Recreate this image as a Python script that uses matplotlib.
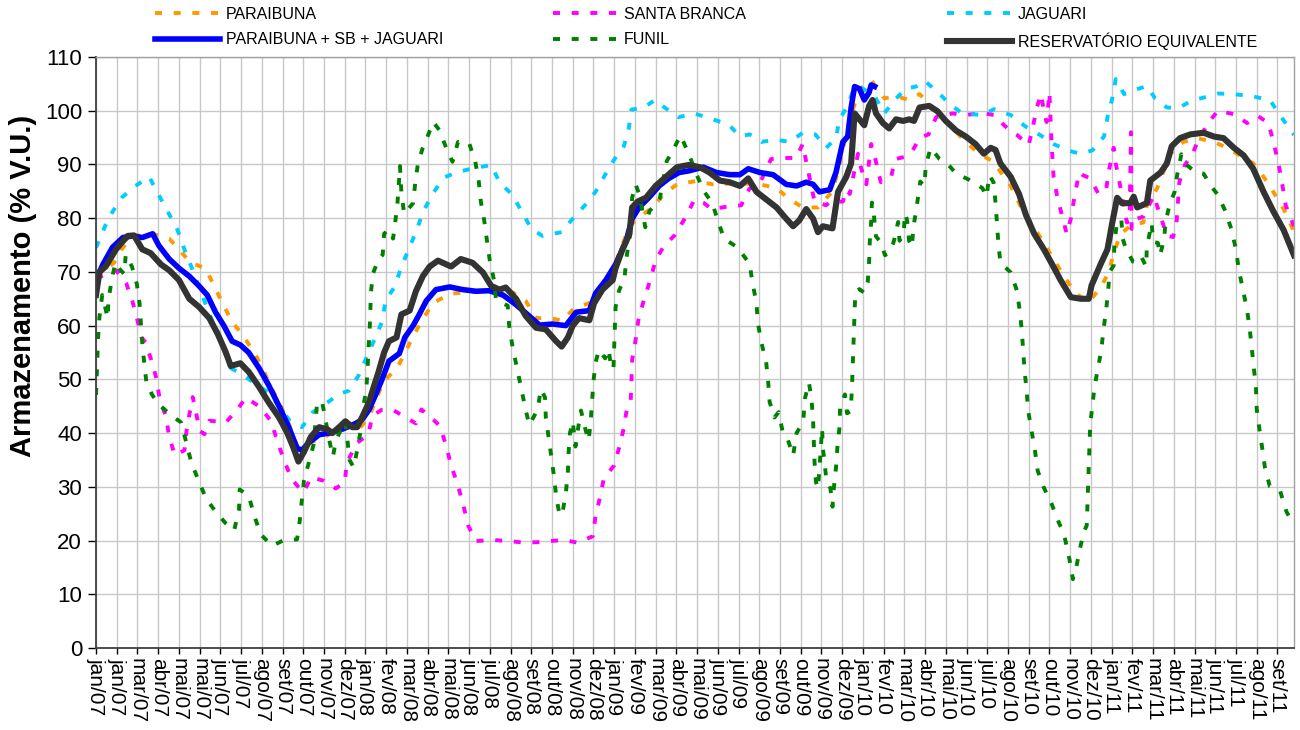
import matplotlib
matplotlib.use("Agg")
import matplotlib.pyplot as plt
from matplotlib.lines import Line2D

plt.rcParams["font.family"] = ["Liberation Sans", "DejaVu Sans"]

# --- x axis: days since 01/jan/2007, one tick every 30 days (Excel date axis)
X_MAX = 1734
TICK_STEP = 30
TICK_LABELS = [
    "jan/07", "jan/07", "mar/07", "abr/07", "mai/07", "mai/07", "jun/07", "jul/07",
    "ago/07", "set/07", "out/07", "nov/07", "dez/07",
    "jan/08", "fev/08", "mar/08", "abr/08", "mai/08", "jun/08", "jul/08", "ago/08",
    "set/08", "out/08", "nov/08", "dez/08",
    "jan/09", "fev/09", "mar/09", "abr/09", "mai/09", "jun/09", "jul/09", "ago/09",
    "set/09", "out/09", "nov/09", "dez/09",
    "jan/10", "fev/10", "mar/10", "abr/10", "mai/10", "jun/10", "jul/10", "ago/10",
    "set/10", "out/10", "nov/10", "dez/10",
    "jan/11", "fev/11", "mar/11", "abr/11", "mai/11", "jun/11", "jul/11", "ago/11",
    "set/11",
]

# --- series (day, % V.U.)
PARAIBUNA_DAYS = [0, 26, 38, 53, 82, 106, 137, 158, 168, 183, 197, 212, 229, 241, 253, 265,
                  279, 291, 303, 318, 337, 361, 380, 395, 407, 416, 436, 459, 472, 488, 512,
                  540, 570, 603, 622, 637, 658, 675, 692, 714, 730, 750, 772, 784, 805, 822,
                  841, 868, 893, 930, 961, 985, 1004, 1023, 1045, 1066, 1076, 1090, 1100,
                  1110, 1122, 1141, 1158, 1177, 1192, 1206, 1230, 1259, 1278, 1298, 1324,
                  1338, 1367, 1401, 1418, 1437, 1454, 1466, 1473, 1483, 1500, 1516, 1521,
                  1536, 1555, 1574, 1594, 1618, 1637, 1675, 1690, 1704, 1719, 1734]
PARAIBUNA_VAL = [69, 71.7, 74.4, 76.7, 77.1, 76.2, 71.7, 70.7, 68.2, 64.2, 60.7, 58.3, 55,
                 52.1, 48.6, 45.7, 41.8, 37.5, 37.9, 38.6, 39.7, 41.1, 40.7, 42.9, 46.8, 49.6,
                 52.1, 58, 61, 64.2, 65.9, 66.3, 66.4, 66.2, 64.6, 61.4, 61.4, 60.9, 63.2,
                 64.2, 67, 71, 78.5, 79.9, 82, 84.5, 86.3, 86.9, 86.3, 86.5, 86.3, 85.6, 83.5,
                 82, 82, 85, 89.9, 98, 102, 104.5, 105.7, 102.3, 102.7, 102, 103.1, 101.3, 98,
                 94.2, 92, 90.6, 86, 82.3, 76.4, 69.2, 66, 64.4, 67.1, 69.9, 73.5, 77.1, 78.8,
                 79.2, 82.4, 85.6, 92, 94.2, 94.9, 94.2, 93.1, 90.2, 87.7, 84.9, 81.7, 77.5]

SANTA_BRANCA_DAYS = [0, 8, 29, 44, 53, 60, 66, 72, 80, 88, 92, 101, 106, 114, 128, 131, 135,
                     140, 145, 150, 157, 164, 188, 204, 217, 237, 253, 262, 272, 283, 292,
                     301, 311, 330, 347, 360, 363, 378, 394, 400, 413, 430, 447, 463, 471,
                     485, 498, 507, 514, 524, 532, 539, 550, 574, 598, 620, 639, 657, 678,
                     697, 719, 723, 729, 735, 750, 757, 763, 768, 774, 775, 776, 781, 785,
                     793, 802, 810, 821, 838, 853, 866, 879, 891, 916, 934, 940, 946, 960,
                     977, 997, 1013, 1023, 1028, 1040, 1057, 1062, 1081, 1086, 1091, 1098,
                     1103, 1106, 1115, 1122, 1128, 1136, 1151, 1157, 1170, 1182, 1192, 1205,
                     1216, 1240, 1254, 1286, 1300, 1312, 1326, 1333, 1350, 1356, 1362, 1368,
                     1372, 1376, 1380, 1383, 1386, 1391, 1398, 1405, 1411, 1416, 1423, 1427,
                     1439, 1451, 1462, 1466, 1473, 1476, 1482, 1492, 1496, 1498, 1499, 1507,
                     1516, 1531, 1541, 1550, 1559, 1564, 1566, 1568, 1576, 1588, 1595, 1612,
                     1624, 1649, 1666, 1682, 1697, 1705, 1712, 1717, 1722, 1734]
SANTA_BRANCA_VAL = [69, 69.2, 70.3, 67.8, 64.4, 61, 57.8, 56.8, 53.6, 49.9, 46.4, 43.2, 39.3,
                    35.9, 36.8, 40.4, 43.4, 46.7, 43.7, 40.4, 39.8, 42.3, 42, 44.3, 46.6, 44.9,
                    42.3, 38.7, 35, 31.5, 30.1, 29, 31.8, 31.1, 29.7, 30.8, 34.5, 38.2, 39.7,
                    43.2, 44.3, 44.3, 43, 41.8, 44.4, 42.9, 41.3, 37.5, 34, 30.2, 26.4, 22.7,
                    19.9, 20.1, 19.9, 19.6, 19.7, 19.9, 20.1, 19.6, 20.8, 24.5, 27.8, 31.5, 34,
                    37.2, 40.4, 44.2, 46.1, 50, 53.6, 57.3, 61, 64.8, 68.4, 72.2, 74.6, 76.9,
                    80.1, 83.4, 82.9, 81.7, 82.2, 82.4, 84.3, 85.5, 86.3, 91, 91.2, 91.2, 93.8,
                    90.5, 83.1, 82.4, 83.1, 83.1, 85.3, 84.5, 89, 92, 89.9, 86.3, 93.8, 91,
                    86.7, 87.8, 91, 91.4, 92.6, 94.9, 95.6, 98.8, 99.5, 99.2, 99.5, 99.2, 97.6,
                    95.9, 95.5, 93.6, 97, 100.7, 103.1, 99.9, 97.9, 103.4, 94.2, 87.7, 84.2,
                    80.6, 77.1, 79.9, 83.8, 88.5, 88.1, 87.4, 84.5, 85.3, 88.8, 93.1, 90.2,
                    86.3, 79.2, 79.5, 96, 78, 79.9, 80.3, 84.2, 80.3, 76.7, 76.5, 79.2, 83.1,
                    86.7, 89.9, 92.2, 94.5, 98.1, 100, 99.3, 97.7, 99, 97.7, 93.8, 89.9, 86.3,
                    82.4, 78.5]

JAGUARI_DAYS = [0, 13, 23, 37, 57, 77, 90, 104, 118, 128, 140, 161, 171, 195, 209, 250, 265,
                281, 298, 314, 332, 351, 366, 380, 402, 414, 419, 433, 442, 454, 464, 474,
                487, 504, 524, 543, 572, 584, 603, 618, 630, 646, 674, 690, 707, 723, 737,
                751, 764, 771, 775, 793, 809, 823, 843, 866, 893, 916, 932, 946, 963, 984,
                1004, 1023, 1041, 1057, 1071, 1076, 1088, 1098, 1110, 1127, 1141, 1156,
                1172, 1187, 1199, 1219, 1235, 1254, 1283, 1300, 1324, 1346, 1365, 1386,
                1407, 1424, 1442, 1459, 1464, 1471, 1476, 1488, 1509, 1521, 1533, 1550,
                1567, 1586, 1605, 1624, 1646, 1673, 1699, 1713, 1734]
JAGUARI_VAL = [74.5, 78.5, 81, 83.8, 86, 87.7, 84.5, 81.2, 77.8, 74.2, 70.3, 63.2, 60, 52.1,
               51.1, 47.5, 45, 42.2, 41.1, 43.9, 45.4, 47.2, 47.9, 50.7, 57.1, 60.7, 64.6,
               67.4, 71, 74.6, 77.8, 81.3, 84.5, 87.6, 88.6, 89.2, 89.9, 86.7, 84.3, 80.8,
               78.1, 76.7, 77.4, 79.9, 82.3, 84.9, 88.1, 91.1, 93.4, 96.6, 100.2, 100.6, 102,
               100.6, 98.8, 99.5, 98.4, 97.4, 95.2, 95.6, 94.2, 94.6, 94.2, 95.9, 95.6, 93.1,
               94.9, 98.4, 100.9, 104.5, 104.1, 102.7, 99.5, 102, 104.1, 104.5, 105.6, 103.4,
               101.3, 99.5, 99.2, 100.3, 99.2, 97, 95.6, 93.8, 92.6, 92, 92.6, 95.2, 98.8,
               102.3, 105.9, 103.1, 104.1, 104.6, 102.3, 100.6, 100.5, 101.9, 102.5, 103.2,
               103.1, 102.7, 102, 99.3, 95.5]

SOMA_DAYS = [0, 10, 24, 39, 53, 67, 82, 91, 106, 120, 135, 149, 161, 173, 185, 197, 209, 221,
             236, 250, 265, 279, 291, 298, 308, 323, 337, 356, 376, 385, 395, 405, 414, 424,
             439, 447, 459, 468, 478, 492, 512, 531, 550, 569, 589, 608, 627, 642, 661, 680,
             695, 714, 723, 738, 752, 767, 776, 786, 800, 815, 829, 844, 858, 879, 898, 917,
             932, 944, 961, 980, 999, 1014, 1028, 1038, 1047, 1062, 1071, 1081, 1088, 1093,
             1098, 1105, 1112, 1119, 1122, 1127]
SOMA_VAL = [68.5, 71.4, 74.6, 76.4, 76.7, 76.4, 77.1, 74.9, 72.4, 70.7, 69.2, 67.4, 65.7,
            62.5, 60, 57.1, 56.4, 55, 52.1, 48.9, 45, 41.1, 37.2, 36.8, 38.2, 39.7, 40, 40.7,
            41.8, 42.5, 44.3, 47.2, 50, 53.4, 54.8, 57.8, 60, 62.1, 64.6, 66.7, 67.2, 66.7,
            66.4, 66.5, 65.7, 63.9, 61.8, 60.1, 60.3, 60, 62.5, 62.8, 66, 68.5, 71.4, 75.6,
            79.9, 82, 83.8, 86, 87.4, 88.5, 88.8, 89.5, 88.5, 88.1, 88.1, 89.2, 88.5, 88.1,
            86.3, 86, 86.7, 86.3, 84.9, 85.3, 88.5, 94.2, 95.2, 100.6, 104.5, 104.1, 102,
            103.4, 104.8, 104.5]

FUNIL_DAYS = [0, 1, 2, 3, 5, 9, 12, 17, 18, 23, 28, 35, 41, 43, 52, 59, 63, 65, 67, 70, 73,
              81, 89, 100, 110, 123, 131, 138, 148, 159, 169, 187, 200, 207, 208, 221, 229,
              238, 255, 272, 291, 295, 298, 301, 308, 315, 320, 327, 332, 337, 343, 347, 360,
              364, 367, 373, 378, 383, 386, 391, 393, 394, 396, 397, 398, 401, 408, 415, 417,
              424, 430, 436, 438, 440, 442, 446, 459, 462, 466, 473, 479, 488, 497, 508, 516,
              524, 540, 549, 554, 557, 562, 566, 570, 576, 579, 596, 598, 603, 609, 615, 621,
              627, 639, 644, 650, 651, 655, 659, 663, 666, 671, 675, 680, 683, 684, 686, 690,
              694, 698, 702, 708, 713, 716, 718, 720, 723, 728, 737, 742, 746, 749, 750, 751,
              752, 757, 765, 768, 773, 776, 781, 787, 795, 801, 816, 826, 835, 846, 858, 868,
              880, 892, 900, 909, 928, 941, 946, 950, 956, 958, 963, 970, 973, 975, 982, 988,
              994, 1000, 1009, 1014, 1019, 1024, 1026, 1032, 1036, 1038, 1039, 1040, 1042,
              1045, 1048, 1051, 1052, 1054, 1057, 1063, 1066, 1068, 1071, 1073, 1076, 1077,
              1084, 1087, 1092, 1094, 1095, 1096, 1097, 1098, 1099, 1105, 1112, 1117, 1119,
              1120, 1122, 1123, 1126, 1129, 1136, 1142, 1150, 1155, 1161, 1163, 1169, 1171,
              1174, 1177, 1181, 1183, 1187, 1191, 1193, 1199, 1201, 1208, 1221, 1234, 1245,
              1263, 1283, 1289, 1293, 1299, 1302, 1304, 1306, 1309, 1324, 1333, 1337, 1340,
              1342, 1344, 1347, 1349, 1354, 1359, 1363, 1371, 1383, 1391, 1397, 1403, 1409,
              1414, 1419, 1424, 1430, 1434, 1435, 1436, 1437, 1438, 1439, 1442, 1445, 1450,
              1455, 1458, 1462, 1465, 1467, 1473, 1474, 1477, 1484, 1486, 1491, 1501, 1506,
              1513, 1520, 1521, 1528, 1530, 1537, 1540, 1546, 1548, 1554, 1561, 1565, 1571,
              1576, 1591, 1603, 1615, 1624, 1634, 1643, 1650, 1654, 1660, 1666, 1670, 1673,
              1676, 1679, 1680, 1684, 1688, 1692, 1699, 1714, 1723, 1734]
FUNIL_VAL = [47.1, 50.4, 54.3, 57.8, 61.6, 65.7, 64.1, 61.4, 64.8, 68.7, 71.7, 70.4, 69.6,
             73.2, 71, 67.8, 64.2, 60.3, 56.6, 52.8, 49.4, 47.2, 45.6, 44.3, 43.2, 42, 38.1,
             34.5, 31.3, 27.9, 26.1, 23.3, 21.9, 25.8, 29.5, 28.3, 24.7, 21.2, 19, 20.1, 20.2,
             23.8, 27.6, 31.1, 34.5, 37.9, 45.6, 45.9, 42.7, 39, 35.6, 38.5, 42.3, 38.6, 35,
             33.6, 36.8, 40.4, 44.3, 47.9, 51.4, 55, 58.7, 62.5, 66.3, 69.7, 72.1, 73.2, 77.1,
             77.9, 76.2, 82.2, 85.8, 89.7, 84.9, 80.8, 82.8, 86.5, 90.2, 93.1, 94.9, 97.9,
             96.4, 92.7, 90.5, 94.2, 94, 90.5, 86.9, 83.1, 79.5, 75.7, 72.1, 68.5, 64.8, 63.7,
             60, 56, 52.3, 48.6, 44.9, 41.5, 44.3, 48.2, 46.6, 43, 39.3, 35.6, 31.9, 28.3,
             24.7, 25, 28.8, 32.6, 36.3, 40, 42.2, 37.5, 41.1, 44.2, 40.9, 38.6, 42.1, 45.8,
             49.6, 53.1, 55.5, 53.9, 55.6, 51.9, 52.1, 55.9, 59.6, 63.4, 66.5, 68.9, 72.8,
             76.9, 83.8, 86.3, 84.2, 78.3, 81.3, 83.6, 90.6, 92.6, 95.4, 92, 88.5, 85, 82.8,
             79.6, 76.2, 74.6, 72.4, 71.7, 68.1, 64.2, 60.5, 56.9, 53.2, 49.4, 45.8, 42.9,
             43.9, 40.2, 39.3, 35.8, 40, 41.1, 42.7, 46.4, 49.4, 45.8, 42.1, 38.2, 34.7, 30.9,
             29.7, 35, 40.9, 37.2, 35.2, 31.5, 29.7, 26.3, 29.8, 33.5, 37.2, 40.9, 44.7, 47.2,
             43.7, 44, 47.7, 51.3, 55, 58.7, 62.5, 66.3, 66.8, 66.1, 68.1, 71.9, 75.7, 79.3,
             82.9, 80.5, 76.6, 75.5, 73.1, 73.8, 75.8, 79.3, 75.8, 77.1, 80.9, 79.6, 75.7,
             74.6, 78.3, 81.3, 85, 86.8, 86, 89.7, 93.1, 91, 89.9, 88.3, 87.2, 85.6, 84, 88,
             86.7, 82.9, 79.3, 75.5, 71.7, 69.9, 66.5, 62.8, 59.1, 55.3, 51.6, 48, 44.3, 40.6,
             36.8, 33, 30.1, 26.9, 24.1, 22.4, 20.1, 16.5, 12.8, 15.1, 18.4, 21.7, 22.8, 26.5,
             30.2, 34, 37.8, 41.5, 44.9, 48.3, 52, 55.3, 59, 62.8, 66.5, 70, 71.2, 75, 78.5,
             79.9, 76.2, 74.2, 71.9, 71.7, 72.8, 71, 74.6, 79.1, 75.6, 75.4, 73.1, 76, 79.2,
             82.6, 84.8, 88.1, 91.9, 90.2, 88.6, 88.3, 85.8, 84.3, 81.5, 78.1, 74.2, 70.5,
             66.8, 63, 59.3, 55.7, 52, 48.2, 44.5, 40.7, 37.2, 33.5, 30.1, 29.2, 25.4, 22.8]

EQUIV_DAYS = [0, 5, 14, 29, 36, 46, 55, 67, 79, 94, 106, 120, 135, 149, 164, 176, 188, 195,
              209, 221, 236, 250, 265, 277, 286, 293, 301, 311, 323, 335, 342, 352, 361, 371,
              378, 385, 395, 402, 409, 417, 424, 435, 442, 454, 463, 473, 483, 495, 514, 528,
              545, 560, 572, 584, 593, 608, 622, 637, 651, 666, 674, 683, 690, 699, 714, 721,
              733, 748, 752, 762, 772, 776, 784, 796, 810, 825, 841, 858, 874, 888, 903, 917,
              932, 944, 956, 970, 985, 999, 1009, 1018, 1028, 1038, 1045, 1052, 1066, 1074,
              1086, 1093, 1098, 1105, 1112, 1119, 1124, 1129, 1139, 1148, 1158, 1168, 1177,
              1184, 1192, 1206, 1218, 1230, 1245, 1259, 1273, 1285, 1295, 1302, 1309, 1324,
              1336, 1346, 1358, 1372, 1384, 1396, 1411, 1425, 1437, 1441, 1454, 1464, 1471,
              1478, 1485, 1497, 1502, 1507, 1521, 1526, 1541, 1550, 1557, 1569, 1584, 1603,
              1618, 1632, 1647, 1661, 1675, 1690, 1704, 1719, 1734]
EQUIV_VAL = [65.7, 70, 71, 74.2, 75.3, 76.7, 76.8, 74.2, 73.5, 71.4, 70.3, 68.5, 65, 63.5,
             61.4, 58.5, 55, 52.5, 53, 51.4, 48.6, 45.7, 42.9, 40, 37.2, 34.7, 36.5, 39.3,
             41.1, 40.7, 40, 41.1, 42.2, 41.1, 41.1, 42.9, 45.7, 48.6, 51.4, 55, 57.1, 57.8,
             62.1, 62.8, 66.4, 69.2, 71, 72.1, 71, 72.4, 71.7, 69.9, 67.4, 66.7, 67.1, 65,
             61.8, 59.6, 59.3, 57.1, 56.1, 57.8, 60, 61.4, 61, 64.2, 66.7, 68.5, 70.7, 74.2,
             77, 82, 83.1, 83.8, 86, 87.7, 89.5, 89.9, 89.5, 88.5, 87, 86.7, 86, 87.4, 84.9,
             83.5, 82, 79.9, 78.5, 79.6, 81.7, 79.9, 77.4, 78.5, 78.1, 84.9, 87.7, 90.2, 99.5,
             98.4, 97.3, 100.9, 102, 99.5, 97.7, 96.7, 98.4, 98.1, 98.4, 98.1, 100.6, 100.9,
             99.9, 98.1, 96.3, 95.2, 93.8, 92, 93.1, 92.7, 90.2, 87.7, 84.5, 80.6, 77.1, 74.2,
             71.4, 68.5, 65.3, 65, 65, 67.5, 71.4, 74.2, 79.2, 83.8, 82.8, 82.8, 84, 82, 82.8,
             87, 88.5, 90.2, 93.4, 94.9, 95.6, 95.9, 95.2, 94.9, 93.1, 91.7, 89.2, 84.9, 81.3,
             77.8, 73.1]

ORANGE  = "#FF9900"
MAGENTA = "#FF00FF"
CYAN    = "#00CCFF"
BLUE    = "#0000FF"
GREEN   = "#008000"
DARK    = "#333333"
GRID    = "#C8C8C8"

DASH_LW = 2.8
DASHES  = (1.8, 3.0)
SOMA_LW = 4.0
EQUIV_LW = 4.4


def main():
    fig = plt.figure(figsize=(13, 7.3), dpi=100)
    ax = fig.add_axes([96 / 1300, 1 - 648 / 730, (1294 - 96) / 1300, (648 - 57) / 730])

    ax.plot(PARAIBUNA_DAYS, PARAIBUNA_VAL, color=ORANGE, lw=DASH_LW, dashes=DASHES)
    ax.plot(SANTA_BRANCA_DAYS, SANTA_BRANCA_VAL, color=MAGENTA, lw=DASH_LW, dashes=DASHES)
    ax.plot(JAGUARI_DAYS, JAGUARI_VAL, color=CYAN, lw=DASH_LW, dashes=DASHES)
    ax.plot(SOMA_DAYS, SOMA_VAL, color=BLUE, lw=SOMA_LW, solid_joinstyle="round")
    ax.plot(FUNIL_DAYS, FUNIL_VAL, color=GREEN, lw=DASH_LW, dashes=DASHES)
    ax.plot(EQUIV_DAYS, EQUIV_VAL, color=DARK, lw=EQUIV_LW, solid_joinstyle="round")

    ax.set_xlim(0, X_MAX)
    ax.set_ylim(0, 110)
    ticks = [i * TICK_STEP for i in range(len(TICK_LABELS))]
    ax.set_xticks(ticks)
    ax.set_xticklabels(TICK_LABELS, rotation=-90, ha="center", va="top", fontsize=15)
    ax.set_yticks(range(0, 111, 10))
    ax.tick_params(axis="y", labelsize=16, length=6, width=1, direction="out", pad=4)
    ax.tick_params(axis="x", length=4, width=1, direction="out", pad=3)

    ax.grid(True, color=GRID, linewidth=1.0)
    ax.set_axisbelow(True)
    for side in ["top", "right"]:
        ax.spines[side].set_color("#A0A0A0")
        ax.spines[side].set_linewidth(1.0)
    for side in ["left", "bottom"]:
        ax.spines[side].set_color("#404040")
        ax.spines[side].set_linewidth(1.3)

    fig.text(23 / 1300, 1 - 286 / 730, "Armazenamento (% V.U.)", rotation=90,
             ha="center", va="center", fontsize=21, fontweight="bold")

    # legend: three columns of two entries placed above the plot
    dash = dict(lw=DASH_LW, dashes=DASHES)
    columns = [
        ([Line2D([], [], color=ORANGE, **dash), Line2D([], [], color=BLUE, lw=SOMA_LW)],
         ["PARAIBUNA", "PARAIBUNA + SB + JAGUARI"], 155),
        ([Line2D([], [], color=MAGENTA, **dash), Line2D([], [], color=GREEN, **dash)],
         ["SANTA BRANCA", "FUNIL"], 553),
        ([Line2D([], [], color=CYAN, **dash), Line2D([], [], color=DARK, lw=EQUIV_LW)],
         ["JAGUARI", "RESERVATÓRIO EQUIVALENTE"], 947),
    ]
    for handles, labels, x0 in columns:
        fig.legend(handles, labels, loc="upper left",
                   bbox_to_anchor=(x0 / 1300, 1 - 7 / 730),
                   frameon=False, fontsize=11.5, handlelength=4.1,
                   handletextpad=0.35, labelspacing=0.65, borderpad=0,
                   borderaxespad=0)

    fig.savefig("out.png", dpi=100)
    plt.close(fig)


if __name__ == "__main__":
    main()
